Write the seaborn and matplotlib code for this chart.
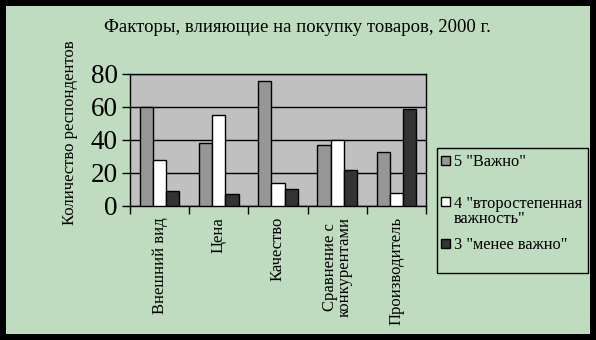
import matplotlib
matplotlib.use("Agg")
import matplotlib.pyplot as plt
from matplotlib.patches import Rectangle
import pandas as pd
import seaborn as sns

categories = ["Внешний вид", "Цена", "Качество", "Сравнение с\nконкурентами", "Производитель"]
series_names = ['5 "Важно"', '4 "второстепенная\nважность"', '3 "менее важно"']
important = [60, 38, 76, 37, 33]
secondary = [28, 55, 14, 40, 8]
less_important = [9, 7, 10, 22, 59]
y_ticks = [0, 20, 40, 60, 80]
title = "Факторы, влияющие на покупку товаров, 2000 г."
y_label = "Количество респондентов"

bar_colors = ["#969696", "#FFFFFF", "#333333"]
bg_color = "#C0DCC0"
plot_color = "#C0C0C0"

rows = []
for name, values in zip(series_names, [important, secondary, less_important]):
    for cat, v in zip(categories, values):
        rows.append({"category": cat, "series": name, "value": v})
df = pd.DataFrame(rows)

sns.set_theme(style="white")
plt.rcParams["font.family"] = ["Liberation Serif", "DejaVu Serif"]
plt.rcParams["text.color"] = "black"
plt.rcParams["xtick.color"] = "black"
plt.rcParams["ytick.color"] = "black"
plt.rcParams["xtick.labelcolor"] = "black"
plt.rcParams["ytick.labelcolor"] = "black"

W, H = 596, 340


def fx(px):
    return px / W


def fy(py):
    return 1 - py / H


fig = plt.figure(figsize=(W / 100, H / 100), dpi=100)
fig.patch.set_facecolor(bg_color)
fig.patch.set_edgecolor("black")
fig.patch.set_linewidth(8.6)

ax = fig.add_axes([fx(130), fy(206), (426 - 130) / W, (206 - 74) / H])
ax.set_facecolor(plot_color)

sns.barplot(data=df, x="category", y="value", hue="series", order=categories,
            hue_order=series_names, palette=bar_colors, width=0.667, gap=0,
            edgecolor="black", linewidth=1.0, legend=False, ax=ax, zorder=3)

ax.set_ylim(0, 80)
ax.set_xlim(-0.5, len(categories) - 0.5)
ax.set_yticks(y_ticks)
ax.set_yticklabels([str(t) for t in y_ticks], fontsize=19.5)
ax.yaxis.grid(True, color="black", linewidth=1.0, zorder=1)
ax.set_axisbelow(True)
ax.tick_params(axis="y", which="major", direction="out", length=6, width=1,
               color="black", left=True, pad=3)

ax.set_xticks(range(len(categories)))
ax.set_xticklabels(categories, rotation=90, fontsize=12, va="top",
                   linespacing=0.95)
ax.set_xticks([i - 0.5 for i in range(len(categories) + 1)], minor=True)
ax.tick_params(axis="x", which="major", length=0, pad=8)
ax.tick_params(axis="x", which="minor", direction="out", length=6, width=1,
               color="black", bottom=True)
ax.set_xlabel("")
ax.set_ylabel("")

for side in ["left", "right", "top", "bottom"]:
    ax.spines[side].set_visible(True)
    ax.spines[side].set_color("black")
    ax.spines[side].set_linewidth(1.0)

fig.text(fx(297), fy(27), title, ha="center", va="center", fontsize=13.5)
fig.text(fx(70), fy(133), y_label, ha="center", va="center",
         rotation=90, fontsize=12)

# Legend: framed box with a square swatch and label per series
fig.add_artist(Rectangle((fx(437), fy(273)), (588 - 437) / W, (273 - 148) / H,
                         transform=fig.transFigure, facecolor="none",
                         edgecolor="black", linewidth=1.0))
entry_rows = [160, 202, 243]
for name, color, row in zip(series_names, bar_colors, entry_rows):
    fig.add_artist(Rectangle((fx(441), fy(row + 4.5)), 9 / W, 9 / H,
                             transform=fig.transFigure, facecolor=color,
                             edgecolor="black", linewidth=1.0))
    fig.text(fx(454), fy(row - 6), name, ha="left", va="top",
             fontsize=11.8, linespacing=0.95)

fig.savefig("out.png", dpi=100, facecolor=fig.get_facecolor(),
            edgecolor=fig.get_edgecolor())
